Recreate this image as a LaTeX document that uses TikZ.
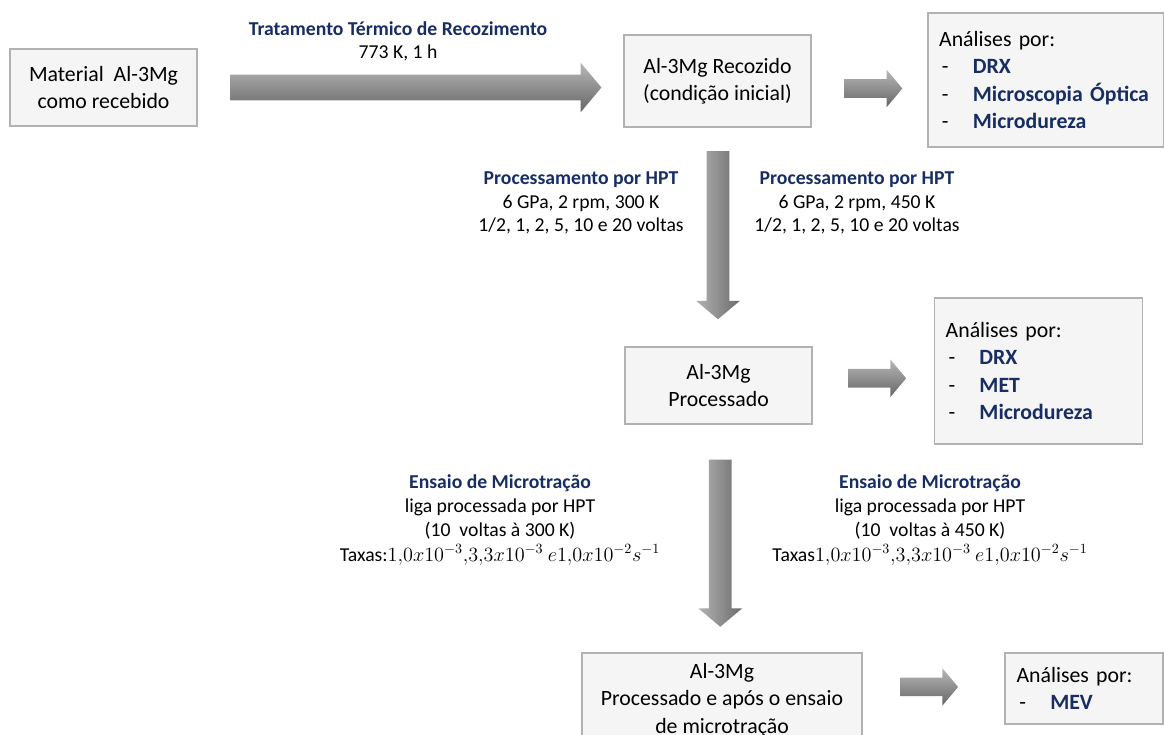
\documentclass[tikz,border=0pt]{standalone}
\usepackage{fontspec}
\setmainfont{Carlito}
\usetikzlibrary{shapes.arrows}
\definecolor{azul}{RGB}{23,45,100}
\newcommand{\titulo}[1]{\textbf{\color{azul}#1}}
\newcommand{\itemanalise}[1]{\makebox[24pt][l]{\hspace{2pt}-}\textbf{\color{azul}#1}}

\begin{document}
\begin{tikzpicture}[x=0.025cm, y=-0.025cm]
   \tikzset{caixa/.style={draw=black!30, fill=black!4, line width=1.2pt, align=center, inner sep=0pt, font=\fontsize{15.5}{19.5}\selectfont}}
   \tikzset{lista/.style={caixa, align=left, inner xsep=8pt}}
   \tikzset{rotulo/.style={align=center, font=\fontsize{14}{16.8}\selectfont}}
   \tikzset{seta/.style={single arrow, inner xsep=0pt, single arrow tip angle=100}}
   \tikzset{setah/.style={seta, top color=black!28, middle color=black!45, bottom color=black!60, inner ysep=0.3125cm, minimum height=9.275cm, minimum width=1.225cm, single arrow head extend=0.3cm}}
   \tikzset{setap/.style={seta, top color=black!28, middle color=black!45, bottom color=black!60, inner ysep=0.225cm, minimum height=1.45cm, minimum width=0.925cm, single arrow head extend=0.2375cm}}
   \tikzset{setav/.style={seta, left color=black!30, middle color=black!45, right color=black!58, rotate=-90, inner ysep=0.275cm, minimum width=1.075cm, single arrow head extend=0.2625cm}}
   \useasboundingbox (0,0) rectangle (1164,735);
   \node[caixa, minimum width=4.675cm, minimum height=1.925cm] (recebido) at (103.5,87.5) {Material\ \ Al-3Mg\\como recebido};
   \node[caixa, minimum width=4.675cm, minimum height=2.3cm] (recozido) at (717.5,81) {Al-3Mg Recozido\\(condição inicial)};
   \node[lista, text width=152pt, minimum height=3.35cm] (analise1) at (1046,80) {Análises por:\\\itemanalise{DRX}\\\itemanalise{Microscopia\ Óptica}\\\itemanalise{Microdureza}};
   \node[caixa, minimum width=4.675cm, minimum height=1.925cm] (processado) at (718.5,385.5) {Al-3Mg\\Processado};
   \node[lista, text width=132pt, minimum height=3.65cm] (analise2) at (1038.5,371) {Análises por:\\\itemanalise{DRX}\\\itemanalise{MET}\\\itemanalise{Microdureza}};
   \node[caixa, minimum width=7cm, minimum height=2.35cm] (ensaiado) at (722,700) {Al-3Mg\\Processado e após o ensaio\\de microtração};
   \node[lista, text width=96pt, minimum height=1.775cm] (analise3) at (1084,688.5) {Análises por:\\\itemanalise{MEV}};
   \node[rotulo] (tratamento) at (398,41.5) {\titulo{Tratamento Térmico de Recozimento}\\773 K, 1 h};
   \node[rotulo] (hpt300) at (581,203) {\titulo{Processamento por HPT}\\6 GPa, 2 rpm, 300 K\\1/2, 1, 2, 5, 10 e 20 voltas};
   \node[rotulo] (hpt450) at (857,203) {\titulo{Processamento por HPT}\\6 GPa, 2 rpm, 450 K\\1/2, 1, 2, 5, 10 e 20 voltas};
   \node[rotulo] (tracao300) at (500,520) {\titulo{Ensaio de Microtração}\\liga processada por HPT\\(10\ \ voltas à 300 K)\\[1pt]Taxas:$1{,}0x10^{-3}{,}3{,}3x10^{-3}\ e1{,}0x10^{-2}s^{-1}$};
   \node[rotulo] (tracao450) at (930,520) {\titulo{Ensaio de Microtração}\\liga processada por HPT\\(10\ \ voltas à 450 K)\\[1pt]Taxas$1{,}0x10^{-3}{,}3{,}3x10^{-3}\ e1{,}0x10^{-2}s^{-1}$};
   \path (recebido.east) -- node[setah] (s1) {} (recebido.east -| recozido.west);
   \path (recozido.east) -- node[setap, yshift=-0.2cm] (s2) {} (analise1.west);
   \path (recozido.south) -- node[setav, pos=0.47, minimum height=4.2cm] (s3) {} (processado.north);
   \path (processado.east) -- node[setap] (s4) {} (analise2.west);
   \path (processado.south) -- node[setav, minimum height=4.175cm] (s5) {} (ensaiado.north);
   \path (ensaiado.east) -- node[setap, pos=0.44, yshift=0.2cm] (s6) {} (analise3.west);
\end{tikzpicture}
\end{document}
